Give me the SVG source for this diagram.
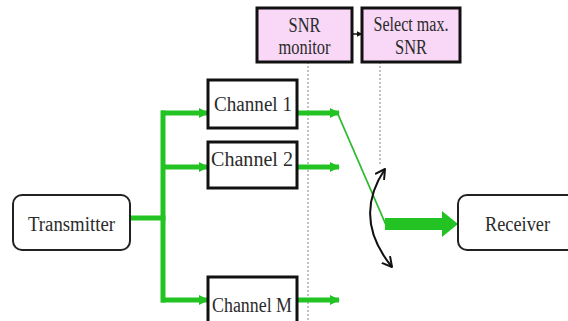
<svg xmlns="http://www.w3.org/2000/svg" width="568" height="321" viewBox="0 0 568 321">
  <defs>
    <marker id="gHead" viewBox="0 0 10 10" refX="9" refY="5" markerWidth="10" markerHeight="11" orient="auto" markerUnits="userSpaceOnUse">
      <path d="M0,0 L10,5 L0,10 Z" fill="#22c322"/>
    </marker>
    <marker id="kHead" viewBox="0 0 10 10" refX="9" refY="5" markerWidth="6" markerHeight="6" orient="auto" markerUnits="userSpaceOnUse">
      <path d="M0,0 L10,5 L0,10 Z" fill="#111"/>
    </marker>
    <marker id="vHead" viewBox="0 0 12 12" refX="10" refY="6" markerWidth="12" markerHeight="12" orient="auto-start-reverse" markerUnits="userSpaceOnUse">
      <path d="M1,1 L10,6 L1,11" fill="none" stroke="#111" stroke-width="2" stroke-linecap="round" stroke-linejoin="round"/>
    </marker>
    <style>
      .lbl { font-family: "Liberation Serif", "Times New Roman", serif; font-size: 20px; fill: #2b2b2b; text-anchor: middle; }
      .pink { fill: #f9d8f7; stroke: #111; stroke-width: 3; }
      .chan { fill: #ffffff; stroke: #111; stroke-width: 3; }
      .term { fill: #ffffff; stroke: #222; stroke-width: 2; }
      .bus { stroke: #22c322; stroke-width: 5; fill: none; }
      .feed { stroke: #22c322; stroke-width: 5; fill: none; marker-end: url(#gHead); }
      .probe { stroke: #9a9a9a; stroke-width: 1.2; stroke-dasharray: 2 2; fill: none; }
    </style>
  </defs>

  <!-- connectors -->
  <g id="connectors">
    <!-- dotted probe lines from the monitor boxes -->
    <line class="probe" x1="308" y1="62" x2="308" y2="321"/>
    <line class="probe" x1="380" y1="62" x2="380" y2="166"/>
    <!-- monitor to selector -->
    <line x1="352" y1="34" x2="362" y2="34" stroke="#111" stroke-width="1.5" marker-end="url(#kHead)"/>
    <!-- transmitter feed and distribution bus -->
    <line class="bus" x1="130" y1="218" x2="165.5" y2="218"/>
    <line class="bus" x1="163" y1="110.5" x2="163" y2="302.5"/>
    <line class="feed" x1="161" y1="113" x2="208" y2="113"/>
    <line class="feed" x1="161" y1="167" x2="208" y2="167"/>
    <line class="feed" x1="161" y1="300" x2="208" y2="300"/>
    <!-- selected path to the receiver -->
    <line x1="337" y1="112" x2="386" y2="225" stroke="#2dbb2d" stroke-width="1.8"/>
    <!-- channel outputs -->
    <line class="feed" x1="297" y1="113" x2="339" y2="113"/>
    <line class="feed" x1="297" y1="167" x2="339" y2="167"/>
    <line class="feed" x1="297" y1="300" x2="339" y2="300"/>
    <polygon points="385,218 442,218 442,211 458,224 442,237 442,230 385,230" fill="#22c322"/>
    <!-- switch -->
    <path d="M385,169 Q352,218 392,267" fill="none" stroke="#111" stroke-width="2" marker-start="url(#vHead)" marker-end="url(#vHead)"/>
  </g>

  <g id="snr-monitor">
    <rect class="pink" x="257" y="8" width="95" height="54"/>
    <text class="lbl" x="304.5" y="32" textLength="32" lengthAdjust="spacingAndGlyphs">SNR</text>
    <text class="lbl" x="304.5" y="54" textLength="52" lengthAdjust="spacingAndGlyphs">monitor</text>
  </g>

  <g id="select-max-snr">
    <rect class="pink" x="362" y="8" width="98" height="54"/>
    <text class="lbl" x="411" y="31" textLength="75" lengthAdjust="spacingAndGlyphs">Select max.</text>
    <text class="lbl" x="411" y="54" textLength="32" lengthAdjust="spacingAndGlyphs">SNR</text>
  </g>

  <g id="channel-1">
    <rect class="chan" x="208" y="80" width="89" height="48"/>
    <text class="lbl" x="253" y="111" textLength="78" lengthAdjust="spacingAndGlyphs">Channel 1</text>
  </g>

  <g id="channel-2">
    <rect class="chan" x="208" y="142" width="89" height="46"/>
    <text class="lbl" x="252" y="166" textLength="82" lengthAdjust="spacingAndGlyphs">Channel 2</text>
  </g>

  <g id="channel-m">
    <rect class="chan" x="208" y="277" width="89" height="50"/>
    <text class="lbl" x="252" y="312" textLength="80" lengthAdjust="spacingAndGlyphs">Channel M</text>
  </g>

  <g id="transmitter">
    <rect class="term" x="13" y="195" width="117" height="55" rx="9"/>
    <text class="lbl" x="71.5" y="231" textLength="87" lengthAdjust="spacingAndGlyphs">Transmitter</text>
  </g>

  <g id="receiver">
    <rect class="term" x="458" y="195" width="130" height="55" rx="9"/>
    <text class="lbl" x="517.5" y="231" textLength="65" lengthAdjust="spacingAndGlyphs">Receiver</text>
  </g>
</svg>
